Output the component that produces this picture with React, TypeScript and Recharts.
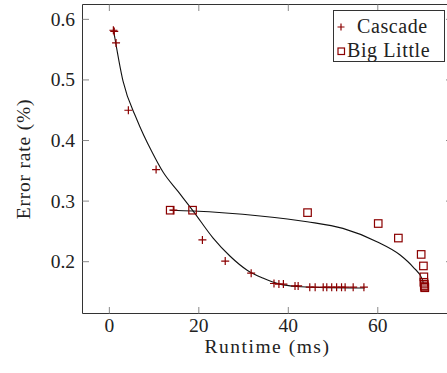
import React from 'react';
import {
  ComposedChart,
  Scatter,
  Line,
  XAxis,
  YAxis,
  ReferenceArea,
  Legend,
} from 'recharts';

// measured points (runtime ms, error rate %)
const cascadeRuntime = [0.9, 1.1, 1.5, 4.25, 10.45, 14.3, 20.8, 25.9, 31.7, 36.8, 37.9, 38.9, 41.5, 42.2, 44.8, 46, 47.8, 48.6, 49.7, 50.8, 51.9, 52.7, 54.5, 56.9];
const cascadeError = [0.582, 0.58, 0.561, 0.45, 0.352, 0.285, 0.236, 0.201, 0.181, 0.164, 0.163, 0.163, 0.16, 0.16, 0.158, 0.158, 0.158, 0.158, 0.158, 0.158, 0.158, 0.158, 0.158, 0.158];

const bigLittleRuntime = [13.6, 18.6, 44.3, 60.1, 64.6, 69.7, 70.2, 70.3, 70.3, 70.4, 70.4, 70.5, 70.5];
const bigLittleError = [0.285, 0.285, 0.281, 0.263, 0.239, 0.212, 0.193, 0.175, 0.166, 0.163, 0.16, 0.158, 0.157];

// fitted trend curves
const cascadeFitRuntime = [0.9, 3.06, 6.19, 9.54, 12.0, 15.35, 18.7, 23.2, 27.0, 30.8, 34.3, 38.1, 41.9, 47.1, 57.1];
const cascadeFitError = [0.584, 0.498, 0.434, 0.381, 0.348, 0.316, 0.284, 0.239, 0.209, 0.186, 0.173, 0.163, 0.159, 0.1574, 0.1566];

const bigLittleFitRuntime = [13.6, 18.7, 33.7, 44.2, 52.2, 59.8, 65.0, 67.9, 70.0, 70.2];
const bigLittleFitError = [0.285, 0.2837, 0.2754, 0.266, 0.255, 0.233, 0.211, 0.191, 0.17, 0.163];

const xTicks = [0, 20, 40, 60];
const yTicks = [0.2, 0.3, 0.4, 0.5, 0.6];

const zip = (xs: number[], ys: number[]) => xs.map((x, i) => ({ x, y: ys[i] }));
const cascadeData = zip(cascadeRuntime, cascadeError);
const bigLittleData = zip(bigLittleRuntime, bigLittleError);
const cascadeFit = zip(cascadeFitRuntime, cascadeFitError);
const bigLittleFit = zip(bigLittleFitRuntime, bigLittleFitError);

const MARK = '#8b0000';
const TXT: React.CSSProperties = { fontFamily: "'Liberation Serif', 'DejaVu Serif', serif", fontSize: 19.5, fill: '#222' };
const W = 460;
const H = 373;
const PLOT_LEFT = 82.5;
const PLOT_TOP = 4.5;
const PLOT_BOTTOM = 313.5;
const PLOT_RIGHT = 452.5;
const TICK = '#8a8a8a';

const Plus = (props: any) => {
  const { cx, cy } = props;
  return (
    <path d={`M${cx - 4},${cy}H${cx + 4}M${cx},${cy - 4}V${cy + 4}`} stroke={MARK} strokeWidth={1.2} fill="none" />
  );
};

const Square = (props: any) => {
  const { cx, cy } = props;
  return <rect x={cx - 3.75} y={cy - 3.75} width={7.5} height={7.5} stroke={MARK} strokeWidth={1.2} fill="none" />;
};

const XTick = (props: any) => {
  const { x, payload } = props;
  return (
    <g>
      <line x1={x} x2={x} y1={PLOT_BOTTOM} y2={PLOT_BOTTOM - 6.5} stroke={TICK} />
      <line x1={x} x2={x} y1={PLOT_TOP} y2={PLOT_TOP + 6.5} stroke={TICK} />
      <text x={x} y={331.5} textAnchor="middle" style={TXT}>
        {payload.value}
      </text>
    </g>
  );
};

const YTick = (props: any) => {
  const { y, payload } = props;
  return (
    <g>
      <line x1={PLOT_LEFT} x2={PLOT_LEFT + 6.5} y1={y} y2={y} stroke={TICK} />
      <line x1={PLOT_RIGHT} x2={PLOT_RIGHT - 6.5} y1={y} y2={y} stroke={TICK} />
      <text x={75} y={y + 6.5} textAnchor="end" style={TXT}>
        {payload.value.toFixed(1)}
      </text>
    </g>
  );
};

const LegendBox = () => (
  <svg width={113} height={53} style={{ display: 'block' }}>
    <rect x={0.5} y={0.5} width={111} height={51} fill="#fff" stroke="#333" />
    <path d="M4.5,17H11.5M8,13.5V20.5" stroke={MARK} strokeWidth={1.2} />
    <text x={24} y={23} style={{ ...TXT, fontSize: 20, letterSpacing: 0.6 }}>
      Cascade
    </text>
    <rect x={5} y={38} width={6.5} height={6.5} stroke={MARK} strokeWidth={1.2} fill="none" />
    <text x={14} y={47} style={{ ...TXT, fontSize: 20, letterSpacing: 0.6 }}>
      Big Little
    </text>
  </svg>
);

export default function App() {
  const midY = (PLOT_TOP + PLOT_BOTTOM) / 2;
  return (
    <div style={{ position: 'absolute', left: 0, top: 0, width: 447, height: 373, overflow: 'hidden', background: '#fff' }}>
      <ComposedChart
        width={W}
        height={H}
        margin={{ top: PLOT_TOP, right: W - PLOT_RIGHT, bottom: H - PLOT_BOTTOM - 50, left: PLOT_LEFT - 60 }}
      >
        <XAxis
          type="number"
          dataKey="x"
          domain={[-6, 76.7]}
          ticks={xTicks}
          height={50}
          tickLine={false}
          axisLine={false}
          tick={<XTick />}
          allowDataOverflow
          label={{
            content: () => (
              <text x={(PLOT_LEFT + PLOT_RIGHT) / 2} y={353} textAnchor="middle" style={{ ...TXT, letterSpacing: 1.5 }}>
                Runtime (ms)
              </text>
            ),
          }}
        />
        <YAxis
          type="number"
          dataKey="y"
          domain={[0.1145, 0.6245]}
          ticks={yTicks}
          width={60}
          tickLine={false}
          axisLine={false}
          tick={<YTick />}
          allowDataOverflow
          label={{
            content: () => (
              <text
                x={30}
                y={midY}
                textAnchor="middle"
                style={{ ...TXT, letterSpacing: 0.8 }}
                transform={`rotate(-90 30 ${midY})`}
              >
                Error rate (%)
              </text>
            ),
          }}
        />
        <ReferenceArea x1={-6} x2={76.7} y1={0.1145} y2={0.6245} fill="none" stroke="#333" strokeWidth={1} ifOverflow="visible" />
        <Line data={cascadeFit} dataKey="y" type="monotone" stroke="#111" strokeWidth={1.1} dot={false} activeDot={false} isAnimationActive={false} />
        <Line data={bigLittleFit} dataKey="y" type="monotone" stroke="#111" strokeWidth={1.1} dot={false} activeDot={false} isAnimationActive={false} />
        <Scatter name="Cascade" data={cascadeData} dataKey="y" shape={<Plus />} isAnimationActive={false} />
        <Scatter name="Big Little" data={bigLittleData} dataKey="y" shape={<Square />} isAnimationActive={false} />
        <Legend
          layout="vertical"
          align="center"
          verticalAlign="middle"
          content={() => <LegendBox />}
          wrapperStyle={{ left: 333, top: 10, width: 113, height: 53, right: 'auto', bottom: 'auto' }}
        />
      </ComposedChart>
    </div>
  );
}
